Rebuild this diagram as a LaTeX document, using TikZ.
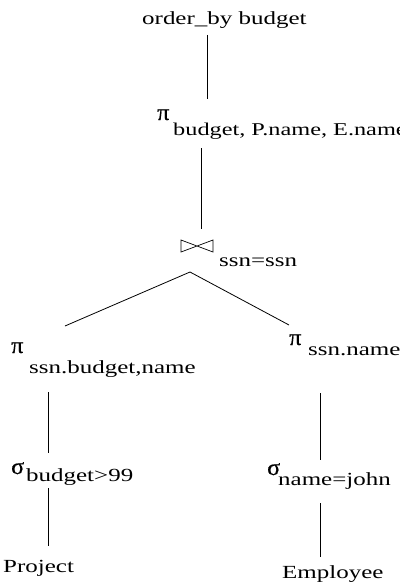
\documentclass[tikz,border=0pt]{standalone}
\usepackage{fontspec}
\setmainfont{Liberation Serif}[FakeStretch=1.35]
\newfontfamily\grkfont{Liberation Serif}[FakeStretch=1.05,FakeBold=0.6]
\begin{document}
\begin{tikzpicture}[x=1pt,y=-1pt,
  lbl/.style={inner sep=0pt,anchor=base west,font=\fontsize{18.5}{20}\selectfont},
  grk/.style={inner sep=0pt,anchor=base west,font=\grkfont\fontsize{23}{25}\selectfont},
  edge/.style={line width=0.8pt}]
\useasboundingbox (0,0) rectangle (399,586);
\clip (0,0) rectangle (399,586);
% texts
\node[lbl] (ob) at (142,25) {order\_by budget};
\node[grk] (pitop) at (157,120) {π};
\node[lbl,font=\fontsize{18}{20}\selectfont] (pitopsub) at (173,135) {budget, P.name, E.name};
\node[lbl] (joinsub) at (219,266) {ssn=ssn};
\node[grk] (pileft) at (11,353) {π};
\node[lbl] (pileftsub) at (29,373) {ssn.budget,name};
\node[grk] (piright) at (289,345) {π};
\node[lbl] (pirightsub) at (308,355) {ssn.name};
\node[grk] (sigleft) at (11,474) {σ};
\node[lbl] (sigleftsub) at (26,481) {budget>99};
\node[grk] (sigright) at (267,475) {σ};
\node[lbl] (sigrightsub) at (278,485) {name=john};
\node[lbl] (proj) at (3,572) {Project};
\node[lbl] (emp) at (282,578) {Employee};
% bowtie
\coordinate (bt) at (197,246);
\draw[line width=0.7pt] (181,240) -- (213,252) -- (213,240) -- (181,252) -- cycle;
% connector ends
\coordinate (a1) at (207,35);  \coordinate (a2) at (207,99);
\coordinate (b1) at (201,148); \coordinate (b2) at (201,229);
\coordinate (j) at (190,272);
\coordinate (jl) at (65,326);  \coordinate (jr) at (289,325);
\coordinate (l1) at (48,392);  \coordinate (l2) at (48,453);
\coordinate (l3) at (48,488);  \coordinate (l4) at (48,546);
\coordinate (r1) at (320,393); \coordinate (r2) at (320,460);
\coordinate (r3) at (320,503); \coordinate (r4) at (320,557);
\draw[edge] (a1) -- (a2);
\draw[edge] (b1) -- (b2);
\draw[edge] (jl) -- (j) -- (jr);
\draw[edge] (l1) -- (l2);
\draw[edge] (l3) -- (l4);
\draw[edge] (r1) -- (r2);
\draw[edge] (r3) -- (r4);
\end{tikzpicture}
\end{document}
